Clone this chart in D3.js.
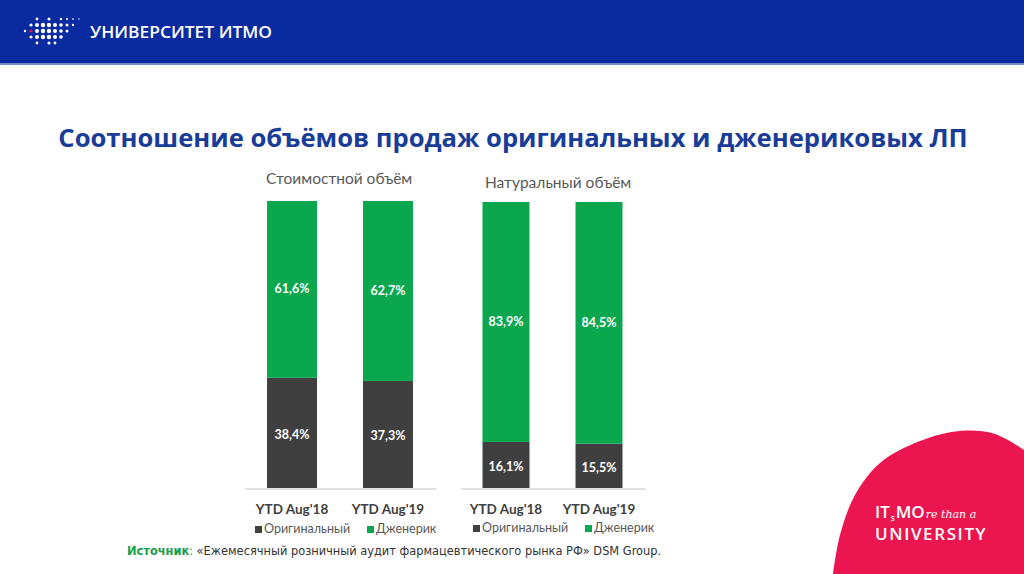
<!DOCTYPE html>
<html><head><meta charset="utf-8">
<script src="https://cdn.jsdelivr.net/npm/d3@7"></script>
<style>html,body{margin:0;padding:0;background:#fff;}svg{display:block;}</style>
</head><body>
<svg id="c" width="1024" height="574"></svg>
<script>
const categories = ["YTD Aug'18", "YTD Aug'19"];
const seriesNames = ["Оригинальный", "Дженерик"];
const costOriginal = [38.4, 37.3];
const costGeneric = [61.6, 62.7];
const volOriginal = [16.1, 15.5];
const volGeneric = [83.9, 84.5];
const chartTitles = ["Стоимостной объём", "Натуральный объём"];
const mainTitle = "Соотношение объёмов продаж оригинальных и дженериковых ЛП";

const svg = d3.select("#c");
const W = 1024, H = 574;
const GREEN = "#0aa74f", DARK = "#3f3f3f", GRAY = "#595959";

// header
svg.append("rect").attr("x",0).attr("y",0).attr("width",W).attr("height",64).attr("fill","#0a2ba0");
svg.append("rect").attr("x",0).attr("y",63).attr("width",W).attr("height",2).attr("fill","#6f8ccc");
// logo dots
const dotCols = [[2],[1,2,3],[0,1,2,3,4],[1,2,3],[0,1,2,3,4],[1,2,3,4],[0,1,2,3],[0,1,2],[0,1],[0]];
const dotR = [1.2,1.6,2.0,2.2,2.2,2.0,1.8,1.5,1.2,1.0];
dotCols.forEach((rows,ci)=>{
  rows.forEach(ri=>{
    const isRed = (ci===1 && ri===2);
    svg.append("circle").attr("cx",25+ci*6).attr("cy",19+ri*6)
      .attr("r",dotR[ci]*(ri===0||ri===4?0.7:1)).attr("fill",isRed?"#e8174a":"#fff");
  });
});
svg.append("text").attr("x",90).attr("y",38).attr("fill","#fff")
  .attr("font-family","'Open Sans', sans-serif").attr("font-weight",600).attr("font-size",16)
  .attr("textLength",182).attr("lengthAdjust","spacingAndGlyphs").text("УНИВЕРСИТЕТ ИТМО");

// red shape bottom right
const shapePts = [[1024,450],[995,434],[960,431],[920,441],[880,463],[855,495],[840,535],[833,574]];
const shapeLine = d3.line().curve(d3.curveCatmullRom);
svg.append("path").attr("d", shapeLine(shapePts) + "L1024,574Z").attr("fill","#eb1650");
// ITMO tagline as separate pieces
let cx = 875;
const pieces = [
  {t:"IT", size:17, weight:600, dy:0, fam:"'Open Sans', sans-serif", style:"normal"},
  {t:"s", size:8, weight:600, dy:3, fam:"'Open Sans', sans-serif", style:"normal"},
  {t:"MO", size:17, weight:600, dy:0, fam:"'Open Sans', sans-serif", style:"normal"},
  {t:"re than a", size:11, weight:400, dy:0, fam:"'DejaVu Serif', serif", style:"italic"}
];
pieces.forEach(p=>{
  const el = svg.append("text").attr("x",cx).attr("y",518+p.dy).attr("fill","#fff")
    .attr("font-family",p.fam).attr("font-size",p.size).attr("font-weight",p.weight)
    .attr("font-style",p.style).text(p.t);
  cx += el.node().getComputedTextLength() + 1;
});
svg.append("text").attr("x",875).attr("y",540).attr("fill","#fff")
  .attr("font-family","'Open Sans', sans-serif").attr("font-size",17).attr("font-weight",600)
  .attr("letter-spacing",1.6).text("UNIVERSITY");

// main title
const t = svg.append("text").attr("x",513).attr("y",147).attr("text-anchor","middle")
  .attr("fill","#183c98").attr("font-family","'Open Sans', sans-serif").attr("font-weight",700)
  .attr("font-size",26).text(mainTitle);
const tw = t.node().getComputedTextLength();
t.attr("font-size", 26*910/tw);

function drawChart(opts){
  const {orig, gen, range, padIn, padOut, top, bottom, title, titleX, titleY, legendX} = opts;
  const x = d3.scaleBand().domain(categories).range(range).paddingInner(padIn).paddingOuter(padOut);
  const y = d3.scaleLinear().domain([0,100]).range([bottom, top]);
  const g = svg.append("g");
  g.append("text").attr("x",titleX).attr("y",titleY).attr("fill",GRAY)
    .attr("font-family","Lato, sans-serif").attr("font-size",15.5).text(title);
  const stackData = categories.map((c,i)=>({c, o:orig[i], g:gen[i]}));
  g.selectAll(".o").data(stackData).join("rect")
    .attr("x",d=>x(d.c)).attr("width",x.bandwidth())
    .attr("y",d=>y(d.o)).attr("height",d=>y(0)-y(d.o)).attr("fill",DARK);
  g.selectAll(".g").data(stackData).join("rect")
    .attr("x",d=>x(d.c)).attr("width",x.bandwidth())
    .attr("y",d=>y(d.o+d.g)).attr("height",d=>y(d.o)-y(d.o+d.g)).attr("fill",GREEN);
  const fmt = v => v.toFixed(1).replace(".",",")+"%";
  stackData.forEach(d=>{
    g.append("text").attr("x",x(d.c)+x.bandwidth()/2).attr("y",(y(0)+y(d.o))/2+6)
      .attr("text-anchor","middle").attr("fill","#fff").attr("font-family","Lato, sans-serif")
      .attr("font-weight",700).attr("font-size",12.5).text(fmt(d.o));
    g.append("text").attr("x",x(d.c)+x.bandwidth()/2).attr("y",(y(d.o)+y(d.o+d.g))/2+4)
      .attr("text-anchor","middle").attr("fill","#fff").attr("font-family","Lato, sans-serif")
      .attr("font-weight",700).attr("font-size",12.5).text(fmt(d.g));
  });
  const ax = g.append("g").attr("transform",`translate(0,${bottom+0.5})`)
    .call(d3.axisBottom(x).tickSize(0).tickPadding(16));
  ax.select(".domain").attr("stroke","#d9d9d9").attr("stroke-width",1.5);
  ax.selectAll("text").attr("fill","#404040").attr("font-family","Lato, sans-serif")
    .attr("font-weight",700).attr("font-size",13.5);
  const lg = g.append("g").attr("transform",`translate(${legendX},${opts.legendY})`);
  const colors = [DARK, GREEN];
  const offs = [0, 112];
  seriesNames.forEach((s,i)=>{
    lg.append("rect").attr("x",offs[i]).attr("y",-7).attr("width",7).attr("height",7).attr("fill",colors[i]);
    lg.append("text").attr("x",offs[i]+9).attr("y",0).attr("fill",GRAY)
      .attr("font-family","Lato, sans-serif").attr("font-size",12.5).text(s);
  });
}

drawChart({orig:costOriginal, gen:costGeneric, range:[244,436], padIn:0.479, padOut:0.24,
  top:201, bottom:488, title:chartTitles[0], titleX:266, titleY:184, legendX:255, legendY:533});
drawChart({orig:volOriginal, gen:volGeneric, range:[460,645], padIn:0.495, padOut:0.242,
  top:202, bottom:488, title:chartTitles[1], titleX:485, titleY:188, legendX:473, legendY:532});

// source
const src = svg.append("text").attr("x",127).attr("y",555).attr("font-family","'DejaVu Sans', sans-serif")
  .attr("font-size",11.4);
src.append("tspan").attr("fill","#14a04a").attr("font-weight",700).text("Источник");
src.append("tspan").attr("fill","#14a04a").text(": ");
src.append("tspan").attr("fill","#333").text("«Ежемесячный розничный аудит фармацевтического рынка РФ» DSM Group.");
</script>
</body></html>
